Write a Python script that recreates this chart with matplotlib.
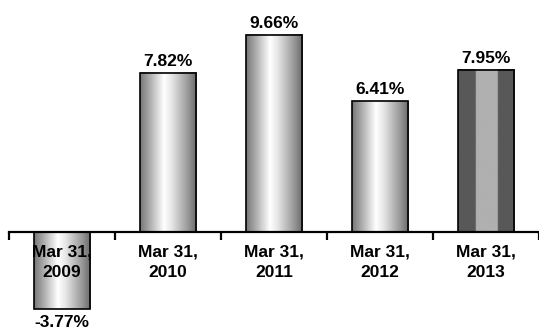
import numpy as np
import matplotlib.pyplot as plt
from matplotlib.colors import LinearSegmentedColormap

# annual returns, year ending Mar 31
periods = ["Mar 31,\n2009", "Mar 31,\n2010", "Mar 31,\n2011", "Mar 31,\n2012", "Mar 31,\n2013"]
returns = [-3.77, 7.82, 9.66, 6.41, 7.95]
labels = ["-3.77%", "7.82%", "9.66%", "6.41%", "7.95%"]

plt.rcParams['font.family'] = ['Liberation Sans', 'DejaVu Sans']

W, H = 539, 331
fig = plt.figure(figsize=(W / 100, H / 100), dpi=100)
ax = fig.add_axes([9 / W, 7 / H, (W - 9) / W, 306 / H])

# chrome-like shading across each bar
metal = LinearSegmentedColormap.from_list(
    "metal", [(0.0, "#777777"), (0.15, "#a5a5a5"), (0.42, "#ffffff"),
              (0.55, "#e8e8e8"), (0.85, "#979797"), (1.0, "#686868")])
# flat striped fill for the latest year
stripe = LinearSegmentedColormap.from_list(
    "stripe", [(0.0, "#585858"), (0.31, "#585858"), (0.31, "#b0b0b0"),
               (0.70, "#b0b0b0"), (0.70, "#585858"), (1.0, "#585858")])

bw = 0.53
grad = np.linspace(0, 1, 256).reshape(1, -1)
for i, v in enumerate(returns):
    cmap = stripe if i == len(returns) - 1 else metal
    y0, y1 = min(0, v), max(0, v)
    ax.imshow(grad, cmap=cmap, aspect="auto", interpolation="bilinear",
              extent=(i - bw / 2, i + bw / 2, y0, y1), zorder=2)
    ax.add_patch(plt.Rectangle((i - bw / 2, y0), bw, y1 - y0, fill=False,
                               edgecolor="black", lw=1.2, zorder=3))
    if v >= 0:
        ax.text(i, v + 0.2, labels[i], ha="center", va="bottom",
                fontsize=12.5, fontweight="bold", zorder=6)
    else:
        ax.text(i, v - 0.3, labels[i], ha="center", va="top",
                fontsize=12.5, fontweight="bold", zorder=6)
    # category label under the axis, drawn over the negative bar
    ax.text(i, -0.6, periods[i], ha="center", va="top", fontsize=12.5,
            fontweight="bold", linespacing=1.45, zorder=6)

ax.set_xlim(-0.5, 4.5)
ax.set_ylim(-4.5, 10.5)

for s in ["top", "right", "left"]:
    ax.spines[s].set_visible(False)
ax.spines["bottom"].set_position(("data", 0))
ax.spines["bottom"].set_linewidth(1.6)
ax.spines["bottom"].set_zorder(5)
ax.set_yticks([])

ax.set_xticks(np.arange(-0.5, 5, 1))
ax.set_xticklabels([])
ax.tick_params(axis="x", length=6, width=1.6, direction="out")

fig.savefig("out.png", dpi=100)
